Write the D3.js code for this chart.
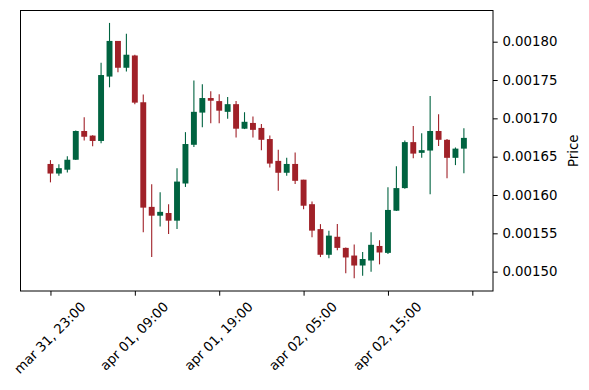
<!DOCTYPE html>
<html>
<head>
<meta charset="utf-8">
<script src="https://cdn.jsdelivr.net/npm/d3@7"></script>
<style>
  body { margin: 0; background: #fff; }
  svg { display: block; }
  svg text { font-family: "DejaVu Sans", sans-serif; }
</style>
</head>
<body>
<svg id="chart" width="589" height="390"></svg>
<script>
// OHLC values, hourly candles starting mar 31, 23:00
const opens = [
  0.0016405, 0.0016280, 0.0016330, 0.0016460, 0.0016835, 0.0016775, 0.0016705, 0.0017545, 0.0018010, 0.0017660,
  0.0017820, 0.0017210, 0.0015845, 0.0015730, 0.0015765, 0.0015665, 0.0016150, 0.0016655, 0.0017075, 0.0017265,
  0.0017225, 0.0017085, 0.0017185, 0.0016865, 0.0016940, 0.0016875, 0.0016730, 0.0016445, 0.0016290, 0.0016405,
  0.0016200, 0.0015880, 0.0015555, 0.0015220, 0.0015455, 0.0015310, 0.0015210, 0.0015080, 0.0015145, 0.0015335,
  0.0015245, 0.0015795, 0.0016090, 0.0016690, 0.0016550, 0.0016580, 0.0016835, 0.0016720, 0.0016485, 0.0016605
];
const highs = [
  0.0016455, 0.0016400, 0.0016505, 0.0016840, 0.0017015, 0.0016780, 0.0017725, 0.0018245, 0.0018010, 0.0018105,
  0.0017830, 0.0017310, 0.0016140, 0.0016035, 0.0015880, 0.0016350, 0.0016820, 0.0017495, 0.0017445, 0.0017355,
  0.0017315, 0.0017280, 0.0017225, 0.0017080, 0.0017025, 0.0016925, 0.0016775, 0.0016590, 0.0016485, 0.0016555,
  0.0016200, 0.0015915, 0.0015620, 0.0015535, 0.0015620, 0.0015315, 0.0015355, 0.0015255, 0.0015515, 0.0015410,
  0.0016100, 0.0016375, 0.0016710, 0.0016900, 0.0016805, 0.0017290, 0.0017055, 0.0016730, 0.0016620, 0.0016870
];
const lows = [
  0.0016165, 0.0016250, 0.0016295, 0.0016455, 0.0016710, 0.0016635, 0.0016675, 0.0017405, 0.0017600, 0.0017610,
  0.0017185, 0.0015515, 0.0015190, 0.0015590, 0.0015490, 0.0015555, 0.0016105, 0.0016625, 0.0016885, 0.0016935,
  0.0016935, 0.0016995, 0.0016750, 0.0016860, 0.0016750, 0.0016585, 0.0016360, 0.0016055, 0.0016250, 0.0016145,
  0.0015815, 0.0015450, 0.0015190, 0.0015175, 0.0015280, 0.0014980, 0.0014915, 0.0014945, 0.0015000, 0.0015095,
  0.0015230, 0.0015790, 0.0016080, 0.0016480, 0.0016485, 0.0016010, 0.0016640, 0.0016220, 0.0016390, 0.0016285
];
const closes = [
  0.0016280, 0.0016350, 0.0016460, 0.0016835, 0.0016760, 0.0016705, 0.0017565, 0.0018010, 0.0017660, 0.0017830,
  0.0017205, 0.0015835, 0.0015730, 0.0015780, 0.0015665, 0.0016175, 0.0016665, 0.0017085, 0.0017265, 0.0017230,
  0.0017100, 0.0017185, 0.0016865, 0.0016955, 0.0016850, 0.0016720, 0.0016410, 0.0016290, 0.0016405, 0.0016185,
  0.0015860, 0.0015535, 0.0015220, 0.0015470, 0.0015310, 0.0015185, 0.0015080, 0.0015165, 0.0015350, 0.0015250,
  0.0015805, 0.0016090, 0.0016690, 0.0016540, 0.0016585, 0.0016835, 0.0016720, 0.0016485, 0.0016605, 0.0016745
];
const tickIndex = [0, 10, 20, 30, 40, 50];
const tickLabels = ["mar 31, 23:00", "apr 01, 09:00", "apr 01, 19:00", "apr 02, 05:00", "apr 02, 15:00", ""];
const priceTicks = [0.0015, 0.00155, 0.0016, 0.00165, 0.0017, 0.00175, 0.0018];

const upColor = "#006340";
const downColor = "#a02128";
const font = "'DejaVu Sans', sans-serif";

const candles = opens.map((o, i) => ({
  i: i, open: o, high: highs[i], low: lows[i], close: closes[i]
}));

const margin = {top: 10.5, right: 96, bottom: 99, left: 20.5};
const width = 589 - margin.left - margin.right;
const height = 390 - margin.top - margin.bottom;

const svg = d3.select("#chart");
const g = svg.append("g")
  .attr("transform", `translate(${margin.left},${margin.top})`);

const x = d3.scaleLinear()
  .domain([-3.55, 52.45])
  .range([0, width]);

const y = d3.scaleLinear()
  .domain([0.00147475, 0.0018407])
  .range([height, 0]);

const step = x(1) - x(0);
const bodyW = step * 0.7;

// wicks
g.selectAll(".wick")
  .data(candles)
  .enter()
  .append("line")
  .attr("x1", d => x(d.i))
  .attr("x2", d => x(d.i))
  .attr("y1", d => y(d.high))
  .attr("y2", d => y(d.low))
  .attr("stroke", d => d.close >= d.open ? upColor : downColor)
  .attr("stroke-width", 1.1);

// bodies
g.selectAll(".body")
  .data(candles)
  .enter()
  .append("rect")
  .attr("x", d => x(d.i) - bodyW / 2)
  .attr("y", d => y(Math.max(d.open, d.close)))
  .attr("width", bodyW)
  .attr("height", d => Math.max(1, Math.abs(y(d.open) - y(d.close))))
  .attr("fill", d => d.close >= d.open ? upColor : downColor);

// frame
g.append("rect")
  .attr("width", width)
  .attr("height", height)
  .attr("fill", "none")
  .attr("stroke", "#000")
  .attr("stroke-width", 1);

// x axis
const xAxis = g.append("g")
  .attr("transform", `translate(0,${height})`)
  .call(d3.axisBottom(x)
    .tickValues(tickIndex)
    .tickSize(4.7)
    .tickFormat((d, k) => tickLabels[k]));
xAxis.attr("font-family", font).attr("font-size", 13.3);
xAxis.select(".domain").remove();
xAxis.selectAll("line").attr("stroke", "#000");
xAxis.selectAll("text").each(function() {
  const t = d3.select(this);
  t.attr("fill", "#000")
    .attr("text-anchor", "end")
    .attr("dy", null)
    .attr("dominant-baseline", "central");
  const L = this.getComputedTextLength();
  const h = 13.3;
  const ax = L * 0.3535 - 1;
  const ay = 4.7 + 4 + h * 0.3535;
  t.attr("x", null).attr("y", null)
    .attr("transform", `translate(${ax},${ay}) rotate(-45)`);
});

// y axis on right
const yAxis = g.append("g")
  .attr("transform", `translate(${width},0)`)
  .call(d3.axisRight(y)
    .tickValues(priceTicks)
    .tickSize(4.7)
    .tickPadding(4.7)
    .tickFormat(d3.format(".5f")));
yAxis.attr("font-family", font).attr("font-size", 13.3);
yAxis.select(".domain").remove();
yAxis.selectAll("line").attr("stroke", "#000");
yAxis.selectAll("text").attr("fill", "#000");

// y label
g.append("text")
  .attr("transform", `translate(${width + 80},${height / 2}) rotate(-90)`)
  .attr("text-anchor", "middle")
  .attr("dominant-baseline", "central")
  .attr("font-family", font)
  .attr("font-size", 13.3)
  .attr("fill", "#000")
  .text("Price");
</script>
</body>
</html>
